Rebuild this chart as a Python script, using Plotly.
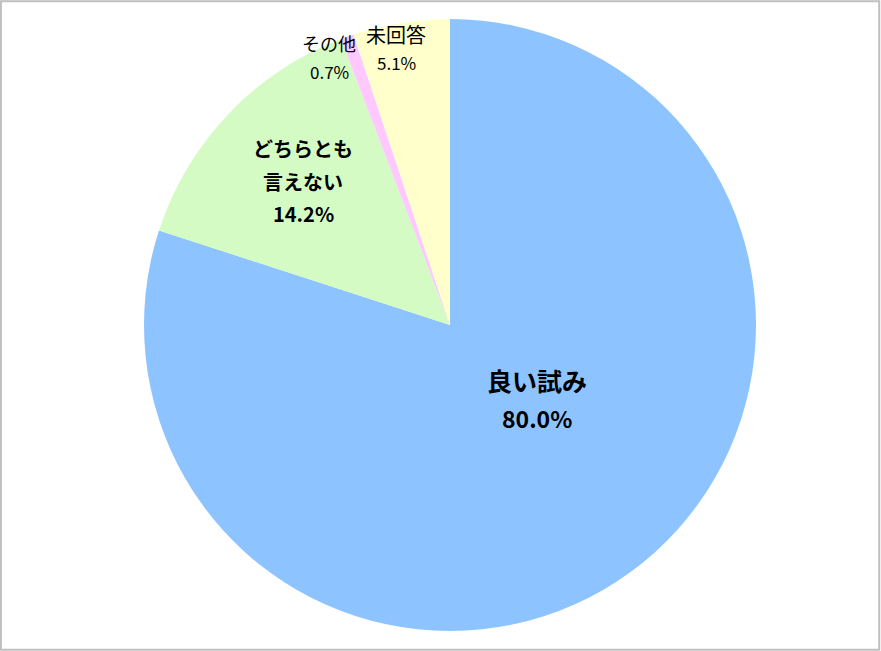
import plotly.graph_objects as go

labels = ["良い試み", "どちらとも言えない", "その他", "未回答"]
label_lines = [["良い試み"], ["どちらとも", "言えない"], ["その他"], ["未回答"]]
values = [80.0, 14.2, 0.7, 5.1]
colors = ["#8DC3FF", "#D5FBC5", "#FFC9FF", "#FFFFCC"]

W, H = 881, 651
cx, cy, r = 450, 325, 306

fig = go.Figure(go.Pie(
    labels=labels, values=values, sort=False, direction="clockwise", rotation=0,
    marker=dict(colors=colors, line=dict(width=0)),
    textinfo="none", hoverinfo="label+percent", showlegend=False,
    domain=dict(x=[(cx - r) / W, (cx + r) / W], y=[(H - cy - r) / H, (H - cy + r) / H]),
))

# label placement (pixel centres of each text line) and styles
label_pos = [
    [(537, 380), (537, 418)],
    [(303, 148), (303, 182), (303, 213)],
    [(329, 43), (329, 72)],
    [(396, 34), (396, 62)],
]
name_size = [25, 20, 18, 20]
pct_size = [23, 20, 17, 17]
label_bold = [True, True, False, False]

annotations = []
for lines, val, pos, ns, ps, bold in zip(label_lines, values, label_pos, name_size, pct_size, label_bold):
    texts = [(t, ns) for t in lines] + [(f"{val:.1f}%", ps)]
    for (t, size), (px, py) in zip(texts, pos):
        annotations.append(dict(
            x=px / W, y=1 - py / H, xref="paper", yref="paper",
            text=f"<b>{t}</b>" if bold else t, showarrow=False,
            xanchor="center", yanchor="middle",
            font=dict(family="Noto Sans CJK JP", size=size, color="#000000"),
        ))

fig.update_layout(
    width=W, height=H, margin=dict(l=0, r=0, t=0, b=0),
    paper_bgcolor="white", plot_bgcolor="white",
    annotations=annotations,
    shapes=[dict(type="rect", xref="paper", yref="paper", x0=0.001, y0=0.002, x1=0.998, y1=0.998,
                 line=dict(color="#BFBFBF", width=2), fillcolor="rgba(0,0,0,0)")],
)

fig.write_html("out.html", config={"displayModeBar": False},
               post_script="document.body.style.margin='0';document.body.style.overflow='hidden';")
